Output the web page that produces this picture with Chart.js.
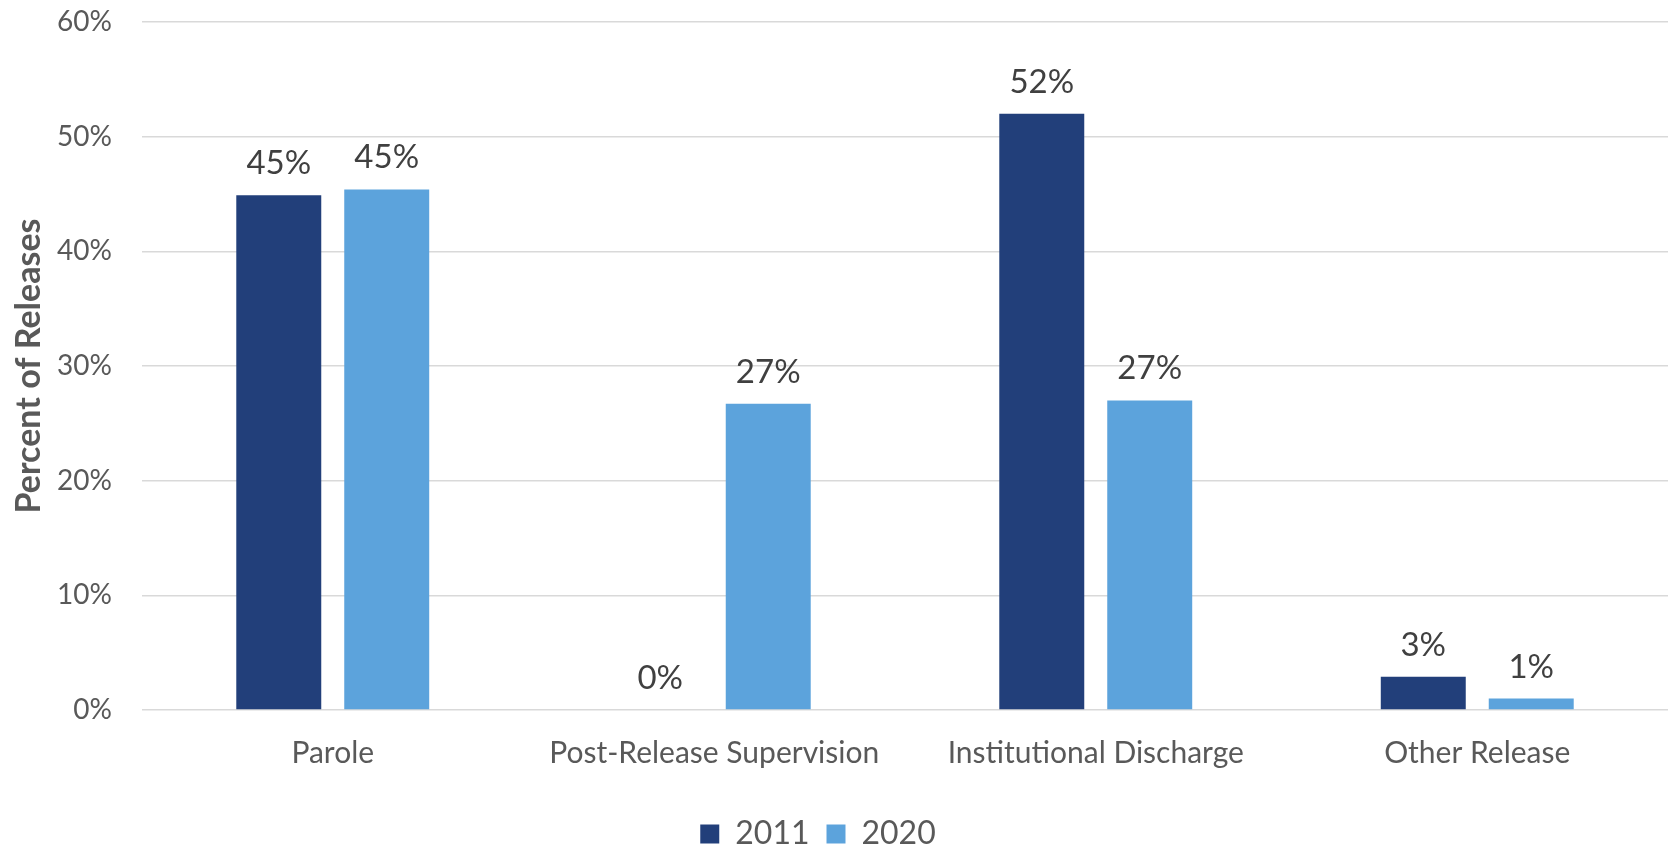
<!DOCTYPE html>
<html>
<head>
<meta charset="utf-8">
<script src="https://cdn.jsdelivr.net/npm/chart.js@4/dist/chart.umd.min.js"></script>
<style>
  html, body { margin: 0; padding: 0; background: #fff; }
  #wrap { width: 1671px; height: 849px; position: relative; }
</style>
</head>
<body>
<div id="wrap"><canvas id="releaseChart"></canvas></div>
<script>
// Release types, share of all releases
const categories = ['Parole', 'Post-Release Supervision', 'Institutional Discharge', 'Other Release'];
const seriesNames = ['2011', '2020'];
const values2011 = [44.9, 0, 52.0, 2.9];
const values2020 = [45.4, 26.7, 27.0, 1.0];
const yTicks = [0, 10, 20, 30, 40, 50, 60];

const FONT = "Lato, 'Open Sans', sans-serif";
const DARK = '#223F7A';
const LIGHT = '#5CA3DC';

// value labels above each bar
const barLabels = {
  id: 'barLabels',
  afterDatasetsDraw(chart) {
    const { ctx } = chart;
    ctx.save();
    ctx.font = `33px ${FONT}`;
    ctx.fillStyle = '#404040';
    ctx.textAlign = 'center';
    ctx.textBaseline = 'alphabetic';
    chart.data.datasets.forEach((ds, i) => {
      chart.getDatasetMeta(i).data.forEach((bar, j) => {
        ctx.fillText(Math.round(ds.data[j]) + '%', bar.x, bar.y - 21);
      });
    });
    ctx.restore();
  }
};

// nudge the legend a bit left of the canvas centre
const legendShift = {
  id: 'legendShift',
  afterLayout(chart) {
    chart.legend.left -= 16;
    chart.legend.right -= 16;
  }
};

const config = {
  type: 'bar',
  data: {
    labels: categories,
    datasets: [
      { label: seriesNames[0], data: values2011, backgroundColor: DARK, borderWidth: 0,
        categoryPercentage: 0.566, barPercentage: 0.787 },
      { label: seriesNames[1], data: values2020, backgroundColor: LIGHT, borderWidth: 0,
        categoryPercentage: 0.566, barPercentage: 0.787 }
    ]
  },
  options: {
    responsive: true,
    maintainAspectRatio: false,
    animation: false,
    layout: { padding: { top: 22, right: 3, bottom: -11, left: 0 } },
    plugins: {
      tooltip: { enabled: false },
      legend: {
        position: 'bottom',
        labels: {
          boxWidth: 19,
          boxHeight: 19,
          padding: 17,
          color: '#595959',
          font: { family: FONT, size: 32 }
        }
      }
    },
    scales: {
      x: {
        grid: { display: false },
        border: { display: false },
        ticks: {
          color: '#595959',
          padding: 17,
          font: { family: FONT, size: 30 }
        },
        afterFit: (scale) => { scale.height = 91; }
      },
      y: {
        min: yTicks[0],
        max: yTicks[yTicks.length - 1],
        border: { display: false },
        grid: { color: '#D9D9D9', lineWidth: 1.5, drawTicks: false },
        afterBuildTicks: (scale) => { scale.ticks = yTicks.map(v => ({ value: v })); },
        ticks: {
          color: '#595959',
          padding: 30,
          font: { family: FONT, size: 28 },
          callback: (v) => v + '%'
        },
        title: {
          display: true,
          text: 'Percent of Releases',
          color: '#595959',
          padding: { top: 9, bottom: 0 },
          font: { family: FONT, size: 34, weight: 'bold' }
        },
        afterFit: (scale) => {
          scale.width = 142;
          // tick padding would otherwise push the plot area down
          scale.paddingTop = 0;
          scale.paddingBottom = 0;
        }
      }
    }
  },
  plugins: [barLabels, legendShift]
};

new Chart(document.getElementById('releaseChart'), config);
</script>
</body>
</html>
